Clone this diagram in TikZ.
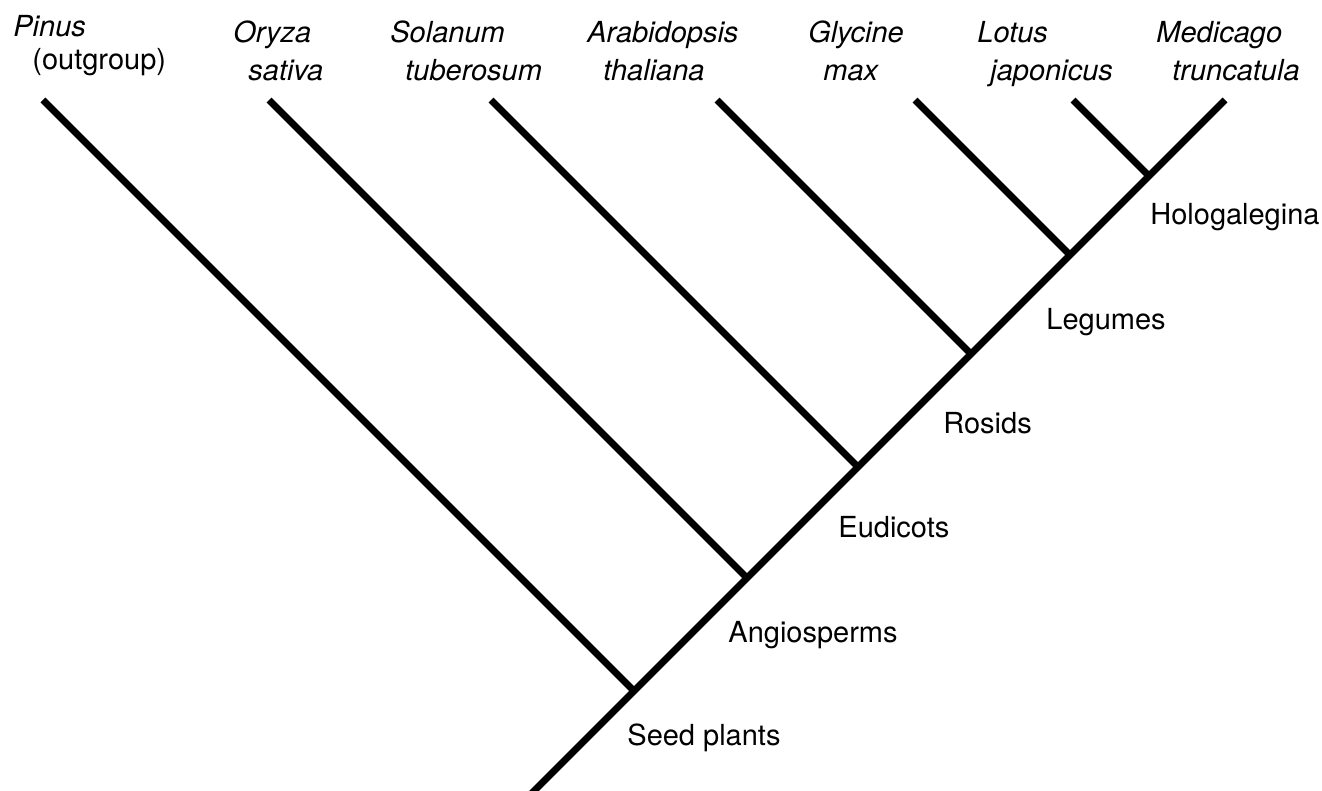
\documentclass[tikz,border=0pt]{standalone}
\usepackage{fontspec}
\setmainfont{TeX Gyre Heros}
\usepackage{tikz}
\usetikzlibrary{positioning}

\begin{document}
\begin{tikzpicture}[x=0.5pt, y=-0.5pt, every node/.style={font=\fontsize{14.5}{17}\selectfont, inner sep=0pt, anchor=base west},
    branch/.style={line width=3.5pt, line cap=butt}]
    \useasboundingbox (0,0) rectangle (1322,791);
    \clip (0,0) rectangle (1322,791);
    % nodes on the trunk
    \coordinate (seed) at (634,691);
    \coordinate (angio) at (747,578);
    \coordinate (eudi) at (858,467);
    \coordinate (rosid) at (971,354);
    \coordinate (legume) at (1070,255);
    \coordinate (holo) at (1149,176);
    % tips
    \coordinate (pinus) at (43,100);
    \coordinate (oryza) at (269,100);
    \coordinate (solanum) at (491,100);
    \coordinate (arabid) at (717,100);
    \coordinate (glycine) at (915,100);
    \coordinate (lotus) at (1073,100);
    \coordinate (medicago) at (1225,100);
    \coordinate (base) at (524,801);
    \draw[branch] (base) -- (medicago);
    \draw[branch] (seed) -- (pinus);
    \draw[branch] (angio) -- (oryza);
    \draw[branch] (eudi) -- (solanum);
    \draw[branch] (rosid) -- (arabid);
    \draw[branch] (legume) -- (glycine);
    \draw[branch] (holo) -- (lotus);
    % species
    \node (pinusA) at (13,37) {\itshape Pinus};
    \node (pinusB) at (32,70) {(outgroup)};
    \node (oryzaA) at (233,43) {\itshape Oryza};
    \node (oryzaB) at (248,81) {\itshape sativa};
    \node (solanumA) at (390,43) {\itshape Solanum};
    \node (solanumB) at (405,81) {\itshape tuberosum};
    \node (arabidA) at (587,43) {\itshape Arabidopsis};
    \node (arabidB) at (603,81) {\itshape thaliana};
    \node (glycineA) at (808,43) {\itshape Glycine};
    \node (glycineB) at (823,81) {\itshape max};
    \node (lotusA) at (977,43) {\itshape Lotus};
    \node (lotusB) at (990,81) {\itshape japonicus};
    \node (medicagoA) at (1156,43) {\itshape Medicago};
    \node (medicagoB) at (1172,81) {\itshape truncatula};
    % clades
    \node (seedlab) at (627,745) {Seed plants};
    \node (angiolab) at (728,642) {Angiosperms};
    \node (eudilab) at (838,537) {Eudicots};
    \node (rosidlab) at (943,433) {Rosids};
    \node (legumelab) at (1046,329) {Legumes};
    \node (hololab) at (1150,225) {Hologalegina};
\end{tikzpicture}
\end{document}
